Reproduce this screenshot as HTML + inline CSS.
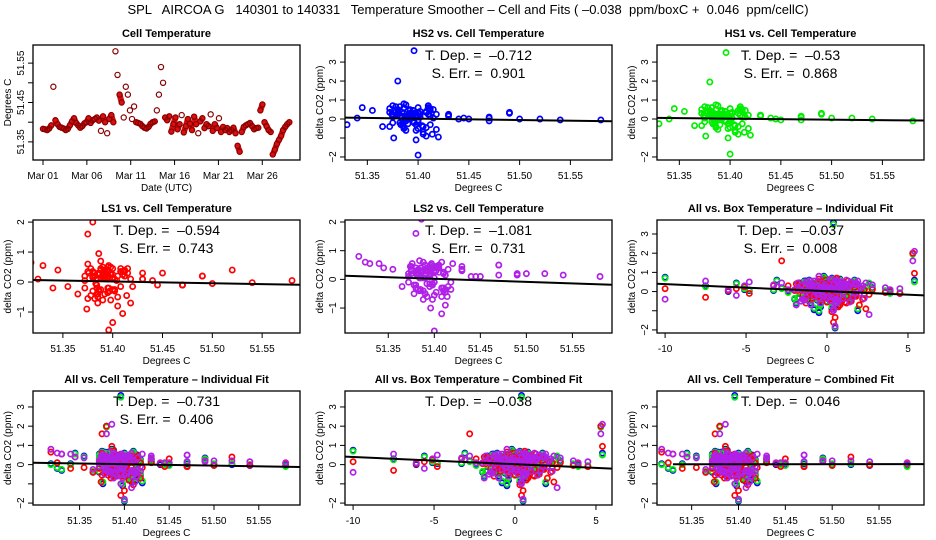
<!DOCTYPE html>
<html><head><meta charset="utf-8">
<style>
html,body{margin:0;padding:0;background:#fff;}
svg{display:block;font-family:"Liberation Sans",sans-serif;}
text{white-space:pre;}
</style></head>
<body>
<svg id="chart" width="936" height="540" viewBox="0 0 936 540">
<text x="468" y="14" text-anchor="middle" font-size="13" xml:space="preserve">SPL   AIRCOA G   140301 to 140331   Temperature Smoother – Cell and Fits ( –0.038  ppm/boxC +  0.046  ppm/cellC)</text>
</svg>
<script>
// ---- data ----
const dates = ["Mar 01","Mar 06","Mar 11","Mar 16","Mar 21","Mar 26"];
const dateDays = [0,5,10,15,20,25];
const cellTemp = [51.383,51.382,51.380,51.384,51.392,51.490,51.405,51.395,51.388,51.386,
51.384,51.380,51.383,51.392,51.402,51.410,51.398,51.392,51.386,51.390,
51.397,51.400,51.410,51.398,51.405,51.408,51.412,51.404,51.378,51.415,
51.400,51.372,51.408,51.418,51.400,51.580,51.520,51.470,51.450,51.412,
51.490,51.470,51.430,51.408,51.440,51.400,51.398,51.396,51.390,51.386,
51.384,51.388,51.396,51.400,51.402,51.430,51.470,51.540,51.500,51.412,
51.405,51.415,51.376,51.395,51.412,51.382,51.395,51.418,51.374,51.390,
51.408,51.396,51.380,51.414,51.395,51.372,51.402,51.410,51.385,51.395,
51.390,51.420,51.378,51.395,51.385,51.410,51.375,51.388,51.380,51.385,
51.375,51.380,51.386,51.372,51.340,51.325,51.375,51.388,51.392,51.395,
51.398,51.390,51.382,51.385,51.386,51.430,51.445,51.400,51.390,51.380,
51.375,51.318,51.330,51.345,51.355,51.365,51.380,51.388,51.395,51.400];
const hs2 = [0.10,-0.20,0.30,0.05,0.45,0.35,-0.40,0.20,-0.10,0.60,
0.15,2.00,-0.30,0.50,0.25,0.70,-0.60,0.10,0.80,-0.25,
0.30,-0.05,0.55,0.20,-0.80,0.40,0.15,-0.35,0.65,0.05,
-0.15,0.35,-0.90,0.25,0.10,-0.05,0.00,0.10,0.00,0.45,
0.30,-0.10,0.15,-0.45,0.00,0.60,-1.10,3.60,0.20,-0.50,
0.35,0.75,-0.20,-1.90,0.40,0.20,0.05,-0.05,0.00,0.55,
-0.70,0.50,-1.00,0.30,-0.30,0.15,0.45,-0.55,0.25,0.05,
0.35,-0.15,0.50,-0.80,0.20,-0.40,0.10,0.60,-0.20,0.30,
0.05,-0.95,0.40,0.15,-0.35,0.25,0.70,-0.10,0.45,-0.25,
0.20,0.35,-0.45,0.55,0.05,-0.20,0.10,-0.60,0.30,0.45,
-0.30,0.15,0.65,-0.15,0.30,0.25,0.05,-0.50,0.20,0.40,
-0.20,0.05,-0.30,0.60,0.45,-0.40,0.25,0.10,-0.15,0.35];
const hs1 = [0.05,-0.15,0.25,0.10,0.40,0.30,-0.35,0.25,-0.05,0.50,
0.20,1.95,-0.25,0.45,0.30,0.65,-0.50,0.05,0.75,-0.30,
0.25,0.00,0.50,0.15,-0.70,0.45,0.10,-0.30,0.60,0.10,
-0.10,0.30,-0.80,0.20,0.15,-0.10,0.05,0.15,-0.05,0.40,
0.25,-0.05,0.20,-0.40,0.05,0.55,-1.00,3.50,0.25,-0.45,
0.30,0.70,-0.15,-1.85,0.35,0.15,0.10,0.00,0.05,0.50,
-0.60,0.45,-0.90,0.25,-0.25,0.20,0.40,-0.50,0.20,0.10,
0.30,-0.10,0.45,-0.70,0.25,-0.35,0.05,0.55,-0.15,0.25,
0.10,-0.85,0.35,0.20,-0.30,0.20,0.65,-0.05,0.40,-0.20,
0.15,0.30,-0.40,0.50,0.00,-0.15,0.05,-0.55,0.25,0.40,
-0.25,0.10,0.60,-0.10,0.25,0.20,0.00,-0.45,0.15,0.35,
-0.15,0.00,-0.25,0.55,0.40,-0.35,0.20,0.05,-0.10,0.30];
const ls1 = [-0.05,0.20,0.35,-0.10,0.30,0.20,-0.50,0.15,0.45,0.95,
-0.20,2.00,0.10,0.40,-0.25,-1.05,0.30,-0.40,0.25,0.50,
-0.30,0.15,0.35,-0.60,0.20,-0.15,0.40,0.05,-0.45,0.30,
0.10,-0.20,0.45,-0.70,0.25,0.05,0.40,-0.10,0.30,0.20,
0.20,-0.10,0.10,0.35,0.05,-0.25,0.50,-1.60,0.20,0.30,
-0.40,0.15,0.55,-1.35,0.10,0.10,-0.10,-0.02,-0.05,0.35,
-0.80,0.45,0.30,-0.35,0.20,-0.55,0.40,0.10,-0.90,0.25,
0.35,-0.20,0.15,-0.45,0.50,0.05,-0.30,0.25,-0.70,0.20,
0.30,-0.15,0.45,0.10,-0.40,0.25,0.60,-0.25,0.15,-0.50,
1.60,0.35,-0.30,0.20,-0.20,0.10,-0.55,0.40,0.15,-0.35,
0.25,-0.60,0.30,0.10,-0.25,0.30,-0.10,0.45,0.20,-0.30,
0.35,0.65,0.55,0.40,-0.15,-0.40,0.20,0.70,-0.20,0.10];
const ls2 = [0.20,-0.35,0.40,0.05,-0.60,0.15,0.50,-0.25,0.30,2.10,
-0.40,1.60,0.35,-0.15,0.45,0.20,-0.70,0.30,0.10,-0.50,
0.55,0.05,-0.30,0.40,0.25,-1.20,0.15,0.45,-0.20,0.35,
-0.55,0.20,0.60,-0.10,0.30,0.10,0.20,0.50,0.10,-0.35,
0.20,0.15,0.30,-0.60,0.10,0.40,-0.15,-1.00,0.50,0.25,
0.65,-0.40,0.20,-1.80,0.30,0.35,0.50,0.15,0.20,-0.45,
0.40,-0.25,0.55,0.10,-0.90,0.30,0.15,-0.35,0.45,0.05,
-0.30,0.50,0.20,-0.60,0.35,0.10,-0.45,0.25,0.40,-0.15,
0.30,0.55,-0.50,0.20,0.05,-0.40,0.35,0.60,-0.20,0.15,
0.45,-0.30,0.25,-0.10,0.55,0.60,0.20,-0.70,0.40,0.10,
-0.20,0.50,0.15,-0.35,0.30,0.45,0.10,0.25,-0.50,0.20,
0.30,0.80,0.55,0.40,0.35,-0.25,0.30,0.05,0.45,-0.10];
const boxTemp = [0.2,-0.5,1.1,-1.2,0.6,-0.3,1.5,-0.8,0.9,5.4,
-1.5,5.3,0.4,-0.6,1.8,0.3,-1.0,2.2,-0.2,0.7,
-7.5,0.5,-1.3,1.2,-0.4,2.6,0.1,-1.8,0.8,-3.3,
1.4,-0.7,0.3,2.0,-5.1,3.9,-0.9,0.6,-2.4,1.0,
-0.1,4.5,-1.6,0.5,-6.1,1.7,-0.5,0.4,0.9,-1.1,
0.2,-10.0,1.3,0.5,-0.7,2.8,-4.8,0.1,3.6,-1.4,
0.7,-0.2,1.9,-0.9,0.4,1.1,-1.7,0.0,2.4,-0.6,
1.6,-1.2,0.3,-0.4,1.0,-2.0,0.6,-3.1,0.8,-0.3,
1.4,-0.8,0.2,2.1,-1.5,0.5,-0.1,1.2,-5.6,0.9,
-2.8,0.3,-0.6,1.7,-1.0,0.6,0.0,-1.9,1.1,-0.4,
0.8,-1.3,0.4,2.3,-0.7,1.5,-0.2,0.9,-1.6,0.2,
1.3,-0.5,0.7,-1.1,1.8,0.1,-0.9,0.6,-0.3,1.0];
const panelTitles = ["Cell Temperature","HS2 vs. Cell Temperature","HS1 vs. Cell Temperature",
"LS1 vs. Cell Temperature","LS2 vs. Cell Temperature","All vs. Box Temperature – Individual Fit",
"All vs. Cell Temperature – Individual Fit","All vs. Box Temperature – Combined Fit","All vs. Cell Temperature – Combined Fit"];
const tDep = [null,"–0.712","–0.53","–0.594","–1.081","–0.037","–0.731","–0.038","0.046"];
const sErr = [null,"0.901","0.868","0.743","0.731","0.008","0.406",null,null];
const slopes = [0,-0.712,-0.53,-0.594,-1.081,-0.037,-0.731,-0.038,0.046];
const cellTicks = [51.35,51.40,51.45,51.50,51.55];
const boxTicks = [-10,-5,0,5];
const dayStep = 0.236;

// ---- drawing ----
const NS="http://www.w3.org/2000/svg";
const svg=document.getElementById('chart');
function mk(tag,attrs,parent){const e=document.createElementNS(NS,tag);for(const k in attrs)e.setAttribute(k,attrs[k]);(parent||svg).appendChild(e);return e;}
const COL={hs2:"#0000ff",hs1:"#00ee00",ls1:"#ff0000",ls2:"#b020e8"};
const colL=[33,345,657], rowT=[45,220,391], rowH=[115,113,114], W=267;

const panels=[
 {type:"time",xlim:[-1.14,29.3],ylim:[51.304,51.596]},
 {type:"cell",xlim:[51.328,51.591],ylim:[-2.16,3.9],sp:["hs2"],yt:[-2,-1,0,1,2,3],yl:[-2,0,1,2,3]},
 {type:"cell",xlim:[51.328,51.591],ylim:[-2.16,3.9],sp:["hs1"],yt:[-2,-1,0,1,2,3],yl:[-2,0,1,2,3]},
 {type:"cell",xlim:[51.32,51.588],ylim:[-1.7,2.07],sp:["ls1"],yt:[-1,0,1,2],yl:[-1,0,1,2]},
 {type:"cell",xlim:[51.303,51.593],ylim:[-1.87,2.07],sp:["ls2"],yt:[-1,0,1,2],yl:[-1,0,1,2]},
 {type:"box",xlim:[-10.5,5.99],ylim:[-2.16,3.73],sp:["hs2","hs1","ls1","ls2"],yt:[-2,-1,0,1,2,3],yl:[-2,0,1,2,3]},
 {type:"cell",xlim:[51.298,51.596],ylim:[-2.1,3.83],sp:["hs2","hs1","ls1","ls2"],yt:[-2,-1,0,1,2,3],yl:[-2,0,1,2,3]},
 {type:"box",xlim:[-10.5,5.99],ylim:[-2.1,3.83],sp:["hs2","hs1","ls1","ls2"],yt:[-2,-1,0,1,2,3],yl:[-2,0,1,2,3]},
 {type:"cell",xlim:[51.313,51.598],ylim:[-2.1,3.83],sp:["hs2","hs1","ls1","ls2"],yt:[-2,-1,0,1,2,3],yl:[-2,0,1,2,3],lineFrom:51.33}
];
const series={hs2:hs2,hs1:hs1,ls1:ls1,ls2:ls2};

panels.forEach((p,k)=>{
  const L=colL[k%3],T=rowT[Math.floor(k/3)],H=rowH[Math.floor(k/3)];
  const g=mk('g',{});
  
  
  const sx=v=>L+(v-p.xlim[0])/(p.xlim[1]-p.xlim[0])*W;
  const sy=v=>T+H-(v-p.ylim[0])/(p.ylim[1]-p.ylim[0])*H;
  const cid='clip'+k;
  const cp=mk('clipPath',{id:cid},g); mk('rect',{x:L,y:T,width:W,height:H},cp);
  const t=mk('text',{x:L+W/2,y:T-8,'text-anchor':'middle','font-size':'11','font-weight':'bold'},g);
  t.textContent=panelTitles[k];
  
  
  const marks=mk('g',{'clip-path':'url(#'+cid+')'},g);
  
  
  let xt,xl,yt,yl,xtitle,ytitle;
  if(p.type==="time"){
    let d='';
    cellTemp.forEach((v,i)=>{
      const jump = i===0 || Math.abs(v-cellTemp[i-1])>0.02;
      d+=(jump?'M':'L')+sx(i*dayStep).toFixed(1)+','+sy(v).toFixed(1);
    });
    const band=mk('path',{d:d,fill:'none',stroke:'#d81010','stroke-width':6,'stroke-linejoin':'round','stroke-linecap':'round'},marks);
    
    
    cellTemp.forEach((v,i)=>{
      const c=mk('circle',{cx:sx(i*dayStep),cy:sy(v),r:2.6,fill:'none',stroke:'#8a0000','stroke-width':1.2},marks);
      
      
    });
    xt=dateDays; xl=dates; yt=[51.35,51.40,51.45,51.50,51.55]; yl=["51.35",null,"51.45",null,"51.55"];
    xtitle="Date (UTC)"; ytitle="Degrees C";
  } else {
    const xs=p.type==="box"?boxTemp:cellTemp;
    const lx0=p.lineFrom!==undefined?p.lineFrom:p.xlim[0], lx1=p.xlim[1];
    const x0=p.type==="box"?0:51.40, y0=0.02;
    p.sp.forEach(s=>{
      series[s].forEach((v,i)=>{
        const c=mk('circle',{cx:sx(xs[i]),cy:sy(v),r:2.6,fill:'none',stroke:COL[s],'stroke-width':1.7},marks);
        
        
      });
    });
    const ln=mk('line',{x1:sx(lx0),y1:sy(y0+slopes[k]*(lx0-x0)),x2:sx(lx1),y2:sy(y0+slopes[k]*(lx1-x0)),stroke:'#000','stroke-width':2},marks);
    
    
    xt=p.type==="box"?boxTicks:cellTicks; xl=xt.map(v=>p.type==="box"?String(v):v.toFixed(2));
    yt=p.yt; yl=p.yt.map(v=>p.yl.includes(v)?(v<0?"−"+(-v):String(v)):null);
    xtitle="Degrees C"; ytitle="delta CO2 (ppm)";
    const st=mk('text',{x:L+W/2,y:T+15,'text-anchor':'middle','font-size':'14','xml:space':'preserve'},g);
    st.textContent="T. Dep. =  "+tDep[k];
    
    
    if(sErr[k]){
      const se=mk('text',{x:L+W/2,y:T+33,'text-anchor':'middle','font-size':'14','xml:space':'preserve'},g);
      se.textContent="S. Err. =  "+sErr[k];
      
      
    }
  }
  const fr=mk('rect',{x:L,y:T,width:W,height:H,fill:'none',stroke:'#000','stroke-width':1.3},g);
  
  
  xt.forEach((v,i)=>{
    const x=sx(v);
    mk('line',{x1:x,y1:T+H,x2:x,y2:T+H+5,stroke:'#000','stroke-width':1},g);
    const tx=mk('text',{x:x,y:T+H+19,'text-anchor':'middle','font-size':'10'},g);
    tx.textContent=xl[i];
    
    
  });
  yt.forEach((v,i)=>{
    const y=sy(v);
    mk('line',{x1:L,y1:y,x2:L-5,y2:y,stroke:'#000','stroke-width':1},g);
    if(yl[i]!==null){
      const tx=mk('text',{x:L-9,y:y,'text-anchor':'middle','font-size':'10',transform:'rotate(-90 '+(L-9)+' '+y+')'},g);
      tx.textContent=yl[i];
      
      
    }
  });
  const xtt=mk('text',{x:L+W/2,y:T+H+31,'text-anchor':'middle','font-size':'10'},g);
  xtt.textContent=xtitle;
  
  
  const ytt=mk('text',{x:L-22,y:T+H/2,'text-anchor':'middle','font-size':'10',transform:'rotate(-90 '+(L-22)+' '+(T+H/2)+')'},g);
  ytt.textContent=ytitle;
  
  
});
</script>
</body></html>
